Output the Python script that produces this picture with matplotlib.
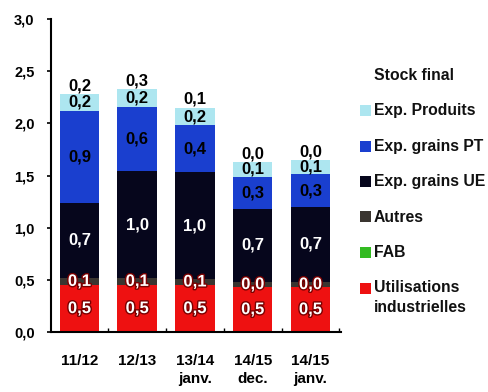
import matplotlib.pyplot as plt
import matplotlib.patheffects as pe
from matplotlib.patches import Rectangle

plt.rcParams['font.family'] = ['Liberation Sans', 'DejaVu Sans']
plt.rcParams['font.weight'] = 'bold'

# campaign years
campagnes = ['11/12', '12/13', '13/14\njanv.', '14/15\ndec.', '14/15\njanv.']

# stacked uses (Mt), bottom to top
util_indus = [0.45, 0.45, 0.45, 0.43, 0.43]
fab = [0.0, 0.0, 0.0, 0.0, 0.0]
autres = [0.07, 0.07, 0.06, 0.05, 0.05]
exp_ue = [0.72, 1.02, 1.02, 0.70, 0.72]
exp_pt = [0.88, 0.62, 0.45, 0.31, 0.31]
exp_produits = [0.16, 0.17, 0.17, 0.14, 0.14]
stock_final = [0.2, 0.3, 0.1, 0.0, 0.0]

# printed labels
lab_util = ['0,5', '0,5', '0,5', '0,5', '0,5']
lab_autres = ['0,1', '0,1', '0,1', '0,0', '0,0']
lab_ue = ['0,7', '1,0', '1,0', '0,7', '0,7']
lab_pt = ['0,9', '0,6', '0,4', '0,3', '0,3']
lab_produits = ['0,2', '0,2', '0,2', '0,1', '0,1']
lab_stock = ['0,2', '0,3', '0,1', '0,0', '0,0']

series = [
    ('Utilisations\nindustrielles', util_indus, '#ee1111'),
    ('FAB', fab, '#33bb22'),
    ('Autres', autres, '#3a3530'),
    ('Exp. grains UE', exp_ue, '#06061c'),
    ('Exp. grains PT', exp_pt, '#1a3fcf'),
    ('Exp. Produits', exp_produits, '#ade6f0'),
    ('Stock final', stock_final, '#ffffff'),
]

W, H = 489, 392
fig = plt.figure(figsize=(W / 100, H / 100), dpi=100)
ax = fig.add_axes([50.5 / W, 60 / H, (341 - 50.5) / W, (332 - 19) / H])

x = list(range(len(campagnes)))
bottom = [0.0] * len(x)
bottoms = {}
for name, vals, col in series:
    ax.bar(x, vals, width=0.68, bottom=bottom, color=col, linewidth=0)
    bottoms[name] = list(bottom)
    bottom = [b + v for b, v in zip(bottom, vals)]

fs = 12
red_fx = [pe.withStroke(linewidth=2, foreground='#7a0000')]
for i in x:
    b = bottoms['Utilisations\nindustrielles'][i]
    ax.text(i, b + util_indus[i] / 2, lab_util[i], ha='center', va='center',
            color='white', fontsize=fs, path_effects=red_fx)
    b = bottoms['Autres'][i]
    ax.text(i, b + autres[i] / 2, lab_autres[i], ha='center', va='center',
            color='white', fontsize=fs, path_effects=red_fx)
    b = bottoms['Exp. grains UE'][i]
    ax.text(i, b + exp_ue[i] / 2, lab_ue[i], ha='center', va='center',
            color='white', fontsize=fs)
    b = bottoms['Exp. grains PT'][i]
    ax.text(i, b + exp_pt[i] / 2, lab_pt[i], ha='center', va='center',
            color='black', fontsize=fs)
    b = bottoms['Exp. Produits'][i]
    ax.text(i, b + exp_produits[i] / 2, lab_produits[i], ha='center', va='center',
            color='black', fontsize=fs)
    b = bottoms['Stock final'][i]
    ax.text(i, b + 0.08, lab_stock[i], ha='center', va='center',
            color='black', fontsize=fs)

ax.set_xlim(-0.5, 4.53)
ax.set_ylim(0, 3)
ax.set_yticks([0, 0.5, 1.0, 1.5, 2.0, 2.5, 3.0])
ax.set_yticklabels(['0,0', '0,5', '1,0', '1,5', '2,0', '2,5', '3,0'])
ax.set_xticks(x)
ax.set_xticklabels(campagnes, linespacing=1.35)
ax.set_xticks([i + 0.5 for i in x], minor=True)
ax.tick_params(axis='y', length=3, width=1.2, pad=8.5, labelsize=10.5)
ax.tick_params(axis='x', which='major', length=0, pad=16, labelsize=11)
ax.tick_params(axis='x', which='minor', direction='in', length=3, width=1)
for s in ['top', 'right']:
    ax.spines[s].set_visible(False)
for s in ['left', 'bottom']:
    ax.spines[s].set_linewidth(1.5)

# legend, drawn by hand to keep the original spacing
y0, step = 75, 35.5
for k, (name, vals, col) in enumerate(reversed(series)):
    yc = y0 + k * step
    if col != '#ffffff':
        fig.add_artist(Rectangle((360 / W, 1 - (yc + 5.5) / H), 11 / W, 11 / H,
                                 transform=fig.transFigure, color=col, lw=0))
    fig.text(374 / W, 1 - yc / H, name.split('\n')[0], ha='left', va='center',
             fontsize=11.3, color='#111111')
    if '\n' in name:
        fig.text(374 / W, 1 - (yc + 19) / H, name.split('\n')[1], ha='left',
                 va='center', fontsize=11.3, color='#111111')

fig.savefig('out.png', dpi=100)
